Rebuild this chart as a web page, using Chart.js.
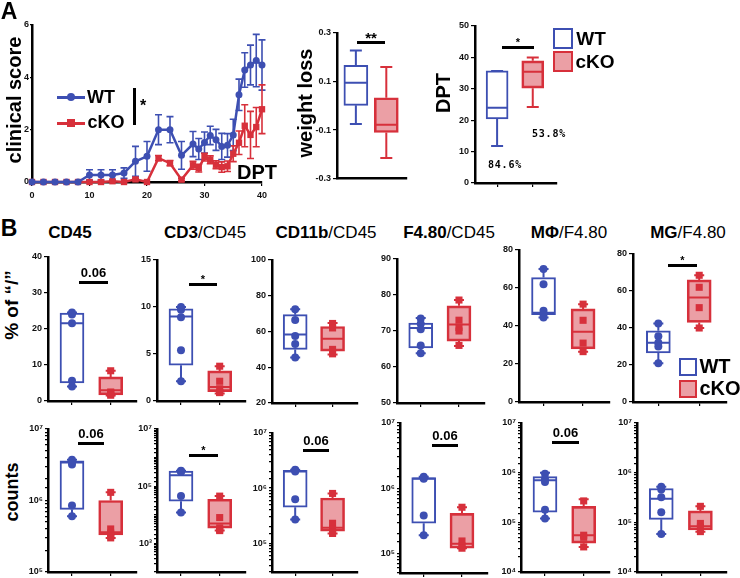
<!DOCTYPE html>
<html>
<head>
<meta charset="utf-8">
<title>clinical score and cell counts</title>
<script src="https://cdn.jsdelivr.net/npm/chart.js@4.4.0/dist/chart.umd.min.js"></script>
<style>
  body { margin: 0; background: #fff; }
  #fig { position: relative; width: 740px; height: 578px; overflow: hidden;
         font-family: 'Liberation Sans', Arial, sans-serif; color: #000; }
  .pnl { position: absolute; }
  .t { position: absolute; white-space: nowrap; font-weight: bold; line-height: 1; }
  .t span { font-weight: normal; }
  .bar { position: absolute; background: #000; }
</style>
</head>
<body>
<div id="fig"></div>
<script>
// clinical score (mean +/- sem) per day post transfer
const days = [0, 2, 4, 6, 8, 10, 12, 14, 16, 18, 20, 22, 24, 26, 28, 29, 30, 31, 32, 33, 34, 35, 36, 37, 38, 39, 40];
const wtScore = [0, 0, 0, 0, 0, 0.27, 0.27, 0.27, 0.34, 0.79, 0.98, 2.0, 2.0, 1.02, 1.45, 1.26, 1.51, 1.78, 1.61, 1.36, 1.4, 1.8, 3.33, 4.28, 4.47, 4.64, 4.47];
const wtErr = [0, 0, 0, 0, 0, 0.2, 0.2, 0.2, 0.2, 0.57, 0.57, 0.57, 0.5, 0.53, 0.48, 0.4, 0.4, 0.35, 0.4, 0.5, 0.45, 0.6, 0.6, 0.66, 0.76, 1.0, 0.96];
const koScore = [0, 0, 0, 0, 0, 0, 0, 0.03, 0, 0.1, 0, 0.91, 0.72, 0.09, 0.64, 0.53, 0.95, 0.85, 0.66, 0.57, 0.6, 1.08, 1.5, 2.15, 1.8, 2.1, 2.78];
const koErr = [0, 0, 0, 0, 0, 0, 0, 0, 0, 0.05, 0, 0.1, 0.1, 0.05, 0.15, 0.15, 0.15, 0.15, 0.15, 0.2, 0.2, 0.3, 0.45, 0.8, 0.9, 0.75, 0.93];

// box stats: [min, q1, median, q3, max]
const weightWT = [-0.075, 0.002, 0.095, 0.167, 0.228];
const weightKO = [-0.215, -0.11, -0.078, 0.033, 0.16];
const weightTicks = [-0.3, -0.1, 0.1, 0.3];
const dptWT = [11.8, 20.4, 24, 35.7, 35.7];
const dptKO = [24.2, 30.2, 35.4, 38.9, 40];
const dptPct = ['84.6%', '53.8%'];

const cellTitles = ['<b>CD45</b>', 'CD3<span>/CD45</span>', 'CD11b<span>/CD45</span>', 'F4.80<span>/CD45</span>', 'M\u03A6<span>/F4.80</span>', 'MG<span>/F4.80</span>'];

// % of parent
const pctMin = [0, 0, 20, 50, 0, 0];
const pctMax = [40, 15, 100, 90, 80, 80];
const pctStep = [10, 5, 20, 10, 20, 20];
const pctBoxWT = [[4, 5, 21.6, 24.4, 24.6], [2.1, 3.8, 9.0, 9.8, 10], [45.5, 50, 58.3, 69.4, 72.5], [63.8, 65.3, 70.8, 72.2, 73.6], [44.5, 46, 47, 65.5, 70], [21, 26.5, 32, 38.5, 42.5]];
const pctBoxKO = [[1.5, 1.7, 3.0, 6.7, 8.4], [0.8, 1.0, 1.5, 3.2, 3.7], [47.2, 49, 56, 62.8, 64.8], [65.8, 67.2, 71.8, 77, 78.6], [26.5, 28, 37, 49, 51.5], [40, 43, 56.5, 66, 68.5]];
const pctPtsWT = [[24.6, 24, 21.6, 5.6, 4], [10, 9.7, 8.9, 5.4, 2.1], [72.5, 66.5, 57.5, 53, 45.5], [73.5, 72, 70.5, 66, 63.8], [70, 62, 48, 46, 44.5], [42.5, 35.5, 32, 30, 21]];
const pctPtsKO = [[8.4, 2.5, 2.2, 2.0, 1.6], [3.7, 2.1, 1.3, 0.9, 0.9], [64.5, 62, 50, 47.5], [78.6, 73, 71, 70, 66], [51.5, 43, 31, 26.5], [68.5, 62, 51, 40]];

// absolute counts (log axis)
const cntMin = [1e5, 1e2, 3e4, 5e4, 1e4, 1e4];
const cntMax = [1e7, 1e7, 1e7, 1e7, 1e7, 1e7];
const cntLabelExp = [[5, 6, 7], [3, 5, 7], [5, 6, 7], [5, 6, 7], [4, 5, 6, 7], [4, 5, 6, 7]];
const cntBoxWT = [[6e5, 7.5e5, 3.4e6, 3.6e6, 3.7e6], [1.2e4, 3e4, 2.4e5, 3.4e5, 3.5e5], [2.7e5, 4.5e5, 2.0e6, 2.1e6, 2.15e6], [1.9e5, 2.9e5, 1.4e6, 1.45e6, 1.5e6], [1.2e5, 1.6e5, 7e5, 8.3e5, 1e6], [5.8e4, 1.15e5, 3e5, 4.8e5, 5.2e5]];
const cntBoxKO = [[3e5, 3.3e5, 3.6e5, 1.0e6, 1.3e6], [2.8e3, 3.4e3, 5e3, 3.5e4, 4.5e4], [1.5e5, 1.65e5, 1.9e5, 6.6e5, 8e5], [1.2e5, 1.2e5, 1.4e5, 4.1e5, 5.1e5], [3.2e4, 3.8e4, 5.5e4, 2.1e5, 2.9e5], [6.5e4, 7e4, 8.3e4, 1.7e5, 2.1e5]];
const cntPtsWT = [[3.7e6, 3.5e6, 3.2e6, 8.5e5, 6e5], [3.5e5, 3.3e5, 3.2e5, 4.5e4, 1.2e4], [2.15e6, 2.1e6, 2.0e6, 6.3e5, 2.7e5], [1.5e6, 1.45e6, 1.4e6, 3.8e5, 1.9e5], [9.5e5, 7.5e5, 6.5e5, 1.8e5, 1.2e5], [5.2e5, 4.6e5, 3.2e5, 1.6e5, 5.8e4]];
const cntPtsKO = [[1.3e6, 4e5, 3.5e5, 3.2e5, 3e5], [4.5e4, 8e3, 3.5e3, 3e3, 2.8e3], [8e5, 2.3e5, 1.8e5, 1.6e5, 1.5e5], [5.1e5, 1.55e5, 1.3e5, 1.2e5], [2.7e5, 5.5e4, 5e4, 3.2e4], [2.1e5, 9.5e4, 8e4, 6.5e4]];

// plot areas [left, top, right, bottom] in page pixels
const pctRects = [[48, 257, 137, 401], [157, 260, 246, 401], [272, 260, 358, 403], [397, 259, 485, 403], [519, 250, 610, 402], [633, 254, 727, 402]];
const cntRects = [[48, 429, 137, 572], [157, 429, 246, 572], [272, 433, 358, 572], [400, 423, 488, 573], [521, 423, 610, 572], [637, 423, 727, 572]];

const BLUE = '#3d4fb2', RED = '#d7303b', PINK = 'rgba(216,64,76,0.5)';
const tickFont = {size: 9, weight: 'bold'};
const SUP = {2: '\u00B2', 3: '\u00B3', 4: '\u2074', 5: '\u2075', 6: '\u2076', 7: '\u2077'};

Chart.defaults.font.family = "'Liberation Sans', Arial, sans-serif";
const fig = document.getElementById('fig');

// whiskers, caps and median for the floating-bar boxes
Chart.register({
  id: 'boxWhiskers',
  afterDatasetDraw(chart, args, opts) {
    if (args.index !== 0 || !opts.stats) return;
    const {ctx, scales: {x, y}} = chart;
    ctx.save();
    ctx.lineWidth = 2;
    opts.stats.forEach((s, i) => {
      const cx = x.getPixelForValue(i);
      const py = s.map(v => y.getPixelForValue(v));
      ctx.strokeStyle = opts.colors[i];
      ctx.beginPath();
      ctx.moveTo(cx, py[0]); ctx.lineTo(cx, py[1]);
      ctx.moveTo(cx, py[3]); ctx.lineTo(cx, py[4]);
      ctx.moveTo(cx - opts.cap, py[0]); ctx.lineTo(cx + opts.cap, py[0]);
      ctx.moveTo(cx - opts.cap, py[4]); ctx.lineTo(cx + opts.cap, py[4]);
      ctx.moveTo(cx - opts.half, py[2]); ctx.lineTo(cx + opts.half, py[2]);
      ctx.stroke();
    });
    ctx.restore();
  }
});

// error bars for the clinical score curve
Chart.register({
  id: 'errorBars',
  beforeDatasetsDraw(chart, args, opts) {
    if (!opts.errs) return;
    const {ctx, scales: {x, y}} = chart;
    chart.data.datasets.forEach((ds, i) => {
      ctx.save();
      ctx.strokeStyle = ds.borderColor;
      ctx.lineWidth = 1.6;
      ds.data.forEach((p, j) => {
        const e = opts.errs[i][j];
        if (!e) return;
        const px = x.getPixelForValue(p.x);
        const top = y.getPixelForValue(p.y + e), bot = y.getPixelForValue(p.y - e);
        ctx.beginPath();
        ctx.moveTo(px, top); ctx.lineTo(px, bot);
        ctx.moveTo(px - 3.5, top); ctx.lineTo(px + 3.5, top);
        ctx.moveTo(px - 3.5, bot); ctx.lineTo(px + 3.5, bot);
        ctx.stroke();
      });
      ctx.restore();
    });
  }
});

function place(rect, yw, xh) {
  const pl = 4, pt = 8, pr = 8;
  const div = document.createElement('div');
  div.className = 'pnl';
  div.style.left = (rect[0] - yw - pl) + 'px';
  div.style.top = (rect[1] - pt) + 'px';
  div.style.width = (rect[2] - rect[0] + yw + pl + pr) + 'px';
  div.style.height = (rect[3] - rect[1] + pt + xh) + 'px';
  const cv = document.createElement('canvas');
  div.appendChild(cv);
  fig.appendChild(div);
  return {cv, padding: {left: pl, top: pt, right: pr, bottom: 0}};
}

function scaleOpts(o) {
  return {
    type: o.type || 'linear',
    min: o.min, max: o.max,
    offset: false,
    border: {color: '#000', width: 2.5},
    grid: {display: o.grid !== false, offset: false, drawOnChartArea: false, color: '#000', lineWidth: 1.2, tickLength: o.tl || 4},
    ticks: Object.assign({font: tickFont, color: '#111', padding: 2, autoSkip: false, maxRotation: 0}, o.ticks || {}),
    afterBuildTicks: o.buildTicks,
    afterFit: s => { if (s.isHorizontal()) s.height = o.size; else s.width = o.size; }
  };
}

function boxChart(rect, yo, wt, ko, wtPts, koPts, xo) {
  const p = place(rect, 26, xo.size);
  const ds = [{
    type: 'bar', order: 3,
    data: [{x: 0, y: [wt[1], wt[3]]}, {x: 1, y: [ko[1], ko[3]]}],
    backgroundColor: ['#fff', PINK], borderColor: [BLUE, RED],
    borderWidth: 2, borderSkipped: false, barThickness: xo.bw
  }];
  if (wtPts) {
    ds.push({type: 'line', order: 1, showLine: false, clip: false, data: wtPts.map(v => ({x: 0, y: v})),
      pointStyle: 'circle', pointRadius: 4, backgroundColor: BLUE, borderColor: BLUE, borderWidth: 0});
    ds.push({type: 'line', order: 1, showLine: false, clip: false, data: koPts.map(v => ({x: 1, y: v})),
      pointStyle: 'rect', pointRadius: 5, backgroundColor: RED, borderColor: RED, borderWidth: 0});
  }
  new Chart(p.cv, {
    type: 'bar',
    data: {datasets: ds},
    options: {
      responsive: true, maintainAspectRatio: false, animation: false,
      layout: {padding: p.padding},
      plugins: {legend: {display: false}, tooltip: {enabled: false},
        boxWhiskers: {stats: [wt, ko], colors: [BLUE, RED], cap: xo.cap, half: xo.bw / 2 - 1}},
      scales: {
        x: scaleOpts({min: -0.62, max: 1.68, size: xo.size, grid: xo.grid, ticks: {callback: () => ''},
          buildTicks: s => { s.ticks = [{value: 0}, {value: 1}]; }}),
        y: scaleOpts(Object.assign({size: 26}, yo))
      }
    }
  });
}

// ---------- text helpers ----------
function txt(html, x, y, size, rot, css) {
  const d = document.createElement('div');
  d.className = 't';
  d.innerHTML = html;
  d.style.left = x + 'px';
  d.style.top = y + 'px';
  d.style.fontSize = size + 'px';
  d.style.transform = 'translate(-50%,-50%)' + (rot ? ' rotate(-90deg)' : '');
  if (css) d.style.cssText += css;
  fig.appendChild(d);
}
function bar(x, y, w, h, color) {
  const d = document.createElement('div');
  d.className = 'bar';
  d.style.cssText = `left:${x}px;top:${y}px;width:${w}px;height:${h}px;` + (color ? `background:${color};` : '');
  fig.appendChild(d);
  return d;
}
function sig(label, x1, x2, y, size) {
  bar(x1, y - 1, x2 - x1, 2.5);
  txt(label, (x1 + x2) / 2, y - (label === '0.06' ? 10 : 5), size);
}

// ---------- panel A ----------
const lp = place([32, 25, 263, 182], 20, 22);
new Chart(lp.cv, {
  type: 'line',
  data: {datasets: [
    {label: 'WT', data: days.map((d, i) => ({x: d, y: wtScore[i]})), borderColor: BLUE, backgroundColor: BLUE,
      borderWidth: 2.5, pointStyle: 'circle', pointRadius: 3.5, pointBorderWidth: 0, clip: false},
    {label: 'cKO', data: days.map((d, i) => ({x: d, y: koScore[i]})), borderColor: RED, backgroundColor: RED,
      borderWidth: 2.5, pointStyle: 'rect', pointRadius: 4.5, pointBorderWidth: 0, clip: false}
  ]},
  options: {
    responsive: true, maintainAspectRatio: false, animation: false,
    layout: {padding: lp.padding},
    plugins: {legend: {display: false}, tooltip: {enabled: false}, errorBars: {errs: [wtErr, koErr]}},
    scales: {
      x: scaleOpts({min: 0, max: 40, size: 22, ticks: {stepSize: 10, padding: 4}}),
      y: scaleOpts({min: 0, max: 6, size: 20, tl: 2, ticks: {stepSize: 2, padding: 1}})
    }
  }
});

boxChart([337, 33, 407, 182], {min: -0.3, max: 0.3, buildTicks: s => { s.ticks = weightTicks.map(v => ({value: v})); }},
  weightWT, weightKO, null, null, {size: 4, bw: 24, cap: 6, grid: false});
boxChart([475, 26, 557, 183], {min: 0, max: 50, ticks: {stepSize: 10}},
  dptWT, dptKO, null, null, {size: 8, bw: 22, cap: 6});

txt('A', 9, 11, 23);
txt('clinical score', 14, 100, 20, true);
txt('DPT', 257, 172, 20);
// legend of the curve
bar(57, 96, 28, 2.5, BLUE);
bar(67, 93, 8, 8, BLUE).style.borderRadius = '50%';
bar(57, 122, 28, 2.5, RED);
bar(67, 119, 8, 8, RED);
txt('WT', 101, 97, 18);
txt('cKO', 106, 122, 18);
bar(133, 88, 2.5, 37);
txt('*', 143, 106, 16);

txt('weight loss', 305, 103, 20, true);
sig('**', 357, 385, 42, 15);
txt('DPT', 443, 93, 20, true);
sig('*', 502, 534, 47, 11);
txt(dptPct[0], 505, 165, 10, false, "font-family:'DejaVu Sans Mono',monospace;letter-spacing:0.8px;");
txt(dptPct[1], 549, 134, 10, false, "font-family:'DejaVu Sans Mono',monospace;letter-spacing:0.8px;");
bar(553, 28, 16, 17, 'transparent').style.border = '2px solid ' + BLUE;
bar(553, 51, 16, 17, PINK).style.border = '2px solid ' + RED;
txt('WT', 591, 38, 19);
txt('cKO', 595, 61, 19);

// ---------- panel B ----------
txt('B', 9, 228, 23);
const titleX = [70, 205, 326, 449, 569, 688];
cellTitles.forEach((t, i) => txt(t, titleX[i], 232, 17));
txt('% of \u201C/\u201D', 11, 305, 19, true);
txt('counts', 12, 492, 18, true);

pctRects.forEach((r, i) => {
  boxChart(r, {min: pctMin[i], max: pctMax[i], ticks: {stepSize: pctStep[i]}},
    pctBoxWT[i], pctBoxKO[i], pctPtsWT[i], pctPtsKO[i], {size: 8, bw: 24, cap: 5});
});
cntRects.forEach((r, i) => {
  const shown = cntLabelExp[i];
  boxChart(r, {type: 'logarithmic', min: cntMin[i], max: cntMax[i], tl: 3,
      ticks: {callback: v => {
        const l = Math.log10(v), e = Math.round(l);
        return (Math.abs(l - e) < 1e-6 && shown.includes(e)) ? '10' + SUP[e] : '';
      }}},
    cntBoxWT[i], cntBoxKO[i], cntPtsWT[i], cntPtsKO[i], {size: 8, bw: 24, cap: 5});
});

// significance marks
sig('0.06', 79, 108, 282, 13);
sig('*', 189, 217, 284, 11);
sig('*', 668, 697, 265, 11);
sig('0.06', 78, 104, 443, 13);
sig('*', 189, 218, 455, 11);
sig('0.06', 303, 329, 450, 13);
sig('0.06', 432, 458, 445, 13);
sig('0.06', 552, 579, 442, 13);

// legend of panel B
bar(679, 358, 14, 14, 'transparent').style.border = '2px solid ' + BLUE;
bar(679, 380, 14, 14, PINK).style.border = '2px solid ' + RED;
txt('WT', 715, 366, 20);
txt('cKO', 720, 388, 20);
</script>
</body>
</html>
